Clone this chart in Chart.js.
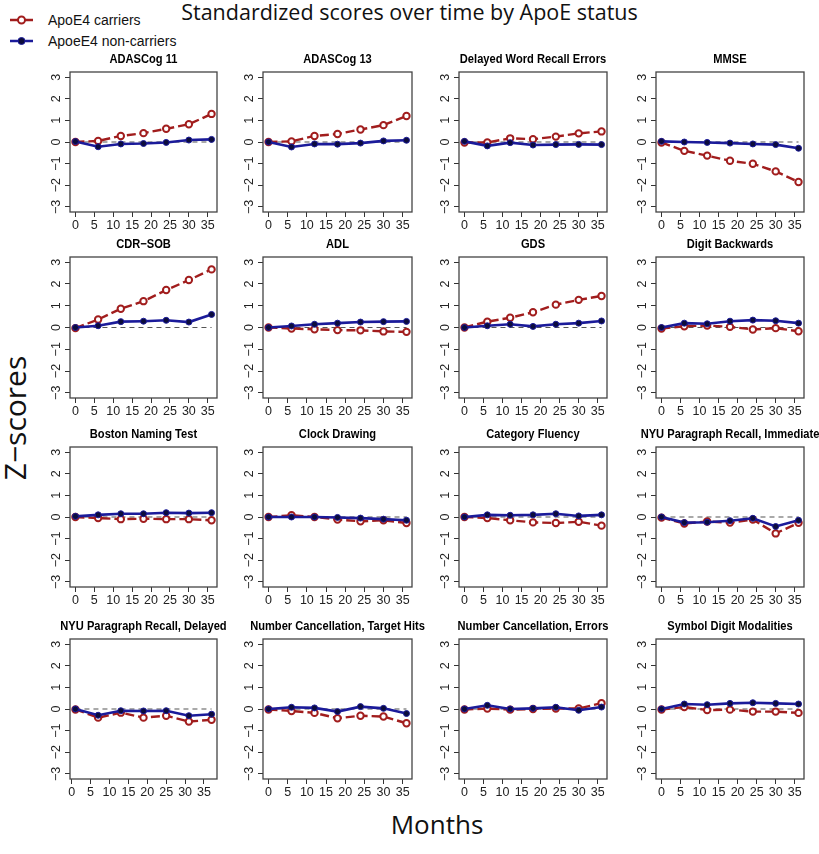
<!DOCTYPE html>
<html>
<head>
<meta charset="utf-8">
<script src="https://cdn.jsdelivr.net/npm/chart.js@4.4.0/dist/chart.umd.min.js"></script>
<style>
  html, body { margin: 0; padding: 0; background: #fff; }
  body { width: 819px; height: 854px; position: relative; overflow: hidden; font-family: Arial, 'Liberation Sans', sans-serif; }
  .panel { position: absolute; }
  #mainTitle { position: absolute; left: 0; width: 819px; top: 1px; text-align: center;
    font-family: 'Open Sans', sans-serif; font-size: 21.5px; line-height: 22px; color: #111; }
  .lg { position: absolute; left: 8px; height: 16px; font-size: 14px; line-height: 14px; color: #111; }
  .lg svg { position: absolute; left: 0; top: 0; }
  .lg span { position: absolute; left: 40px; top: 0; white-space: nowrap; }
  #ylab { position: absolute; left: 14px; top: 418px; transform: translate(-50%, -50%) rotate(-90deg);
    font-family: 'Open Sans', sans-serif; font-size: 30px; white-space: nowrap; color: #111; }
  #xlab { position: absolute; left: 437px; top: 824px; transform: translate(-50%, -50%);
    font-family: 'Open Sans', sans-serif; font-size: 26px; white-space: nowrap; color: #111; }
</style>
</head>
<body>
<div id="mainTitle">Standardized scores over time by ApoE status</div>
<div class="lg" style="top:13px">
  <svg width="34" height="16"><line x1="2" y1="7" x2="25" y2="7" stroke="#a11d1d" stroke-width="2.5"/><circle cx="13.5" cy="7" r="3.5" fill="#fff" stroke="#a11d1d" stroke-width="2"/></svg>
  <span>ApoE4 carriers</span>
</div>
<div class="lg" style="top:34px">
  <svg width="34" height="16"><line x1="2" y1="7" x2="25" y2="7" stroke="#1b1b9a" stroke-width="2.5"/><circle cx="13.5" cy="7" r="3.5" fill="#0c0c3c" stroke="#1b1b9a" stroke-width="1"/></svg>
  <span>ApoeE4 non-carriers</span>
</div>
<div id="ylab">Z&#8722;scores</div>
<div id="xlab">Months</div>

<script>
// ---- data ----
const months = [0, 6, 12, 18, 24, 30, 36];
const monthsShifted = [1, 7, 13, 19, 25, 31, 37];
const xTicks = [0, 5, 10, 15, 20, 25, 30, 35];
const yTicks = [-3, -2, -1, 0, 1, 2, 3];

const panelTitles = [
  'ADASCog 11', 'ADASCog 13', 'Delayed Word Recall Errors', 'MMSE',
  'CDR\u2212SOB', 'ADL', 'GDS', 'Digit Backwards',
  'Boston Naming Test', 'Clock Drawing', 'Category Fluency', 'NYU Paragraph Recall, Immediate',
  'NYU Paragraph Recall, Delayed', 'Number Cancellation, Target Hits', 'Number Cancellation, Errors', 'Symbol Digit Modalities'
];

// ApoE4 carriers
const carrierScores = [
  [0, 0.05, 0.28, 0.41, 0.61, 0.82, 1.30],
  [0, 0.03, 0.28, 0.37, 0.58, 0.78, 1.20],
  [-0.02, -0.02, 0.17, 0.13, 0.25, 0.40, 0.49],
  [-0.02, -0.41, -0.63, -0.87, -1.01, -1.36, -1.85],
  [-0.03, 0.37, 0.86, 1.21, 1.72, 2.18, 2.67],
  [0, -0.05, -0.08, -0.12, -0.13, -0.18, -0.20],
  [0, 0.27, 0.45, 0.70, 1.05, 1.27, 1.45],
  [-0.05, 0.06, 0.09, 0.03, -0.09, -0.03, -0.17],
  [0, -0.05, -0.10, -0.08, -0.10, -0.10, -0.15],
  [0, 0.08, 0.0, -0.12, -0.20, -0.15, -0.28],
  [0, -0.05, -0.15, -0.25, -0.28, -0.22, -0.40],
  [-0.03, -0.30, -0.21, -0.26, -0.12, -0.76, -0.27],
  [-0.02, -0.40, -0.17, -0.40, -0.31, -0.58, -0.50],
  [-0.02, -0.09, -0.18, -0.43, -0.31, -0.35, -0.66],
  [-0.02, 0.02, -0.03, 0, 0.02, 0.02, 0.27],
  [-0.02, 0.09, -0.05, -0.03, -0.12, -0.12, -0.18]
];

// ApoeE4 non-carriers
const nonCarrierScores = [
  [0.02, -0.22, -0.09, -0.07, -0.02, 0.09, 0.12],
  [0, -0.23, -0.09, -0.10, -0.05, 0.05, 0.08],
  [0.03, -0.18, -0.03, -0.14, -0.12, -0.11, -0.12],
  [0.03, 0, -0.02, -0.05, -0.09, -0.12, -0.29],
  [0, 0.08, 0.27, 0.29, 0.33, 0.25, 0.60],
  [0, 0.07, 0.15, 0.20, 0.25, 0.27, 0.28],
  [0, 0.08, 0.15, 0.05, 0.15, 0.20, 0.30],
  [0, 0.20, 0.17, 0.29, 0.34, 0.31, 0.20],
  [0.03, 0.10, 0.15, 0.15, 0.20, 0.18, 0.20],
  [0, 0, 0, -0.02, -0.05, -0.10, -0.15],
  [0, 0.10, 0.08, 0.10, 0.15, 0.05, 0.10],
  [0, -0.26, -0.24, -0.17, -0.06, -0.44, -0.15],
  [0, -0.29, -0.08, -0.09, -0.08, -0.31, -0.24],
  [0, 0.08, 0.05, -0.12, 0.11, 0.03, -0.21],
  [0, 0.17, 0, 0.03, 0.08, -0.06, 0.09],
  [0, 0.23, 0.20, 0.26, 0.29, 0.26, 0.23]
];

const panelMonths = panelTitles.map((t, i) => i === 12 ? monthsShifted : months);

// ---- layout (plot boxes in page pixels) ----
const rowBoxes = [[72, 212], [257, 398], [447, 587], [639, 779]];
const colBoxes = [[70, 217], [263, 412], [459, 607], [656, 804]];

const RED = '#a11d1d';
const BLUE = '#1b1b9a';
const TICK_FONT = { family: "Arial, 'Liberation Sans', sans-serif", size: 12.5 };
const Y_AXIS_W = 30;
const X_AXIS_H = 26;
const TITLE_H = 20;
const RIGHT_PAD = 30;

// plot frame + panel title centred over the plot box (like R's main=)
const framePlugin = {
  id: 'frame',
  afterDraw(chart, args, opts) {
    const { ctx, chartArea: a } = chart;
    ctx.save();
    ctx.strokeStyle = '#444';
    ctx.lineWidth = 1.3;
    ctx.strokeRect(a.left, a.top, a.right - a.left, a.bottom - a.top);
    // slightly condensed bold title
    ctx.translate((a.left + a.right) / 2, a.top - 12);
    ctx.scale(0.89, 1);
    ctx.fillStyle = '#000';
    ctx.font = "bold 12.5px Arial, 'Liberation Sans', sans-serif";
    ctx.textAlign = 'center';
    ctx.textBaseline = 'middle';
    ctx.fillText(opts.text, 0, 0);
    ctx.restore();
  }
};

const minus = v => (v < 0 ? '\u2212' + Math.abs(v) : String(v));

panelTitles.forEach((title, i) => {
  const r = Math.floor(i / 4), c = i % 4;
  const [top, bottom] = rowBoxes[r];
  const [left, right] = colBoxes[c];
  const w = Y_AXIS_W + (right - left) + RIGHT_PAD;
  const h = TITLE_H + (bottom - top) + X_AXIS_H;

  const div = document.createElement('div');
  div.className = 'panel';
  div.style.left = (left - Y_AXIS_W) + 'px';
  div.style.top = (top - TITLE_H) + 'px';
  const canvas = document.createElement('canvas');
  canvas.width = w; canvas.height = h;
  canvas.style.width = w + 'px'; canvas.style.height = h + 'px';
  div.appendChild(canvas);
  document.body.appendChild(div);

  const xs = panelMonths[i];
  const span = xs[xs.length - 1] - xs[0];

  new Chart(canvas, {
    type: 'line',
    data: {
      datasets: [
        {
          label: 'ApoeE4 non-carriers',
          data: xs.map((x, k) => ({ x, y: nonCarrierScores[i][k] })),
          borderColor: BLUE, borderWidth: 2.6,
          pointRadius: 3, pointBackgroundColor: '#0c0c3c', pointBorderColor: BLUE, pointBorderWidth: 1,
          tension: 0
        },
        {
          label: 'ApoE4 carriers',
          data: xs.map((x, k) => ({ x, y: carrierScores[i][k] })),
          borderColor: RED, borderWidth: 2.4, borderDash: [9, 4],
          pointRadius: 3.2, pointBackgroundColor: '#fff', pointBorderColor: RED, pointBorderWidth: 2,
          tension: 0
        },
        {
          label: 'zero',
          data: [{ x: xs[0], y: 0 }, { x: xs[xs.length - 1], y: 0 }],
          borderColor: '#555', borderWidth: 1.2, borderDash: [5, 4], pointRadius: 0
        }
      ]
    },
    options: {
      responsive: false,
      animation: false,
      events: [],
      layout: { padding: { left: 0, right: RIGHT_PAD, top: TITLE_H, bottom: 0 } },
      plugins: {
        legend: { display: false },
        tooltip: { enabled: false },
        title: { display: false },
        frame: { text: title }
      },
      scales: {
        x: {
          type: 'linear',
          min: xs[0] - span * 0.04, max: xs[xs.length - 1] + span * 0.04,
          afterBuildTicks: ax => { ax.ticks = xTicks.map(v => ({ value: v })); },
          afterFit: ax => { ax.height = X_AXIS_H; },
          grid: { display: true, drawOnChartArea: false, drawTicks: true, tickLength: 5, color: '#333' },
          border: { display: false },
          ticks: { font: TICK_FONT, color: '#222', padding: 1, minRotation: 0, maxRotation: 0, autoSkip: false }
        },
        y: {
          min: -3.24, max: 3.24,
          afterBuildTicks: ax => { ax.ticks = yTicks.map(v => ({ value: v })); },
          afterFit: ax => { ax.width = Y_AXIS_W; },
          grid: { display: true, drawOnChartArea: false, drawTicks: true, tickLength: 5, color: '#333' },
          border: { display: false },
          ticks: { font: TICK_FONT, color: '#222', padding: 1, minRotation: 90, maxRotation: 90, crossAlign: 'center', autoSkip: false, callback: v => minus(v) }
        }
      }
    },
    plugins: [framePlugin]
  });
});
</script>
</body>
</html>
